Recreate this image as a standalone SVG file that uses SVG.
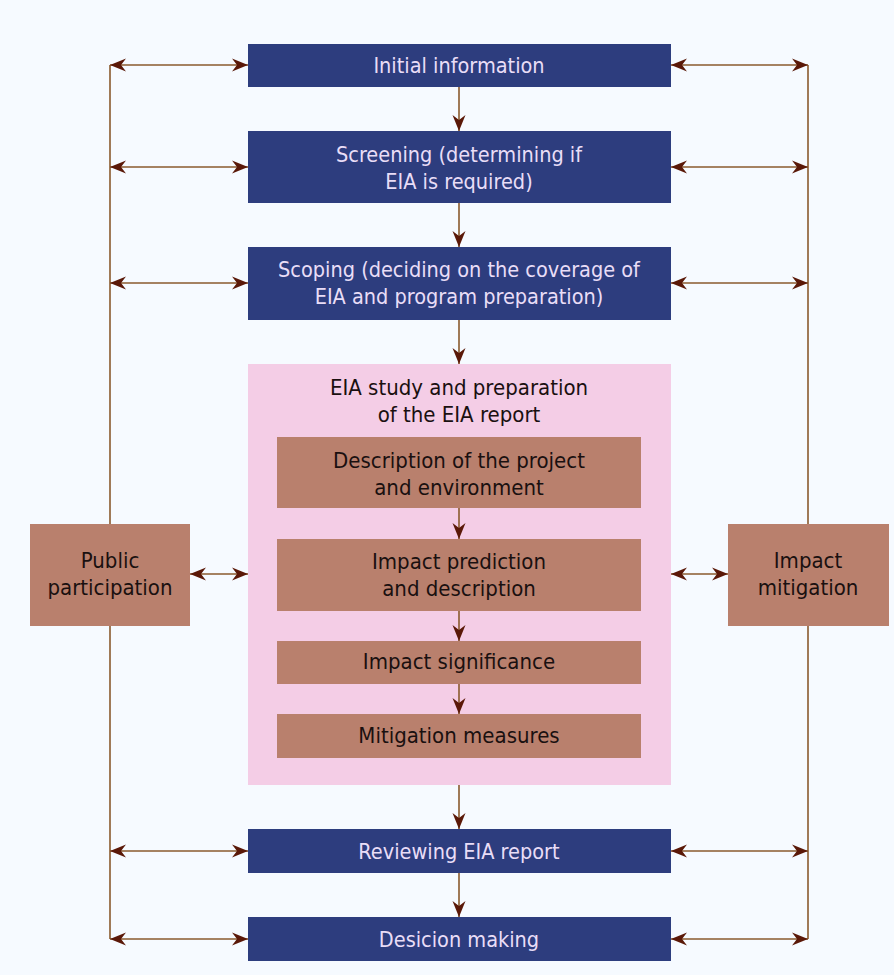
<svg xmlns="http://www.w3.org/2000/svg" width="894" height="975" viewBox="0 0 894 975">
  <defs>
    <marker id="tip" markerUnits="userSpaceOnUse" markerWidth="20" markerHeight="16" viewBox="-17 -8 18 16" refX="0" refY="0" orient="auto-start-reverse">
      <path d="M0,0 L-16,-6.5 L-11,0 L-16,6.5 Z" fill="#5a1808"/>
    </marker>
    <style>
      .stage { fill: #2d3d7e; }
      .task { fill: #b9806d; }
      .panel { fill: #f4cde6; }
      .stage-label { font-family: "DejaVu Sans Condensed", "DejaVu Sans", sans-serif; font-size: 21.5px; fill: #e9ddf7; text-anchor: middle; }
      .task-label { font-family: "DejaVu Sans Condensed", "DejaVu Sans", sans-serif; font-size: 22px; fill: #1a1010; text-anchor: middle; }
      .link { stroke: #8a5a2e; stroke-width: 1.6; fill: none; }
      .arrow { stroke: #8a5a2e; stroke-width: 1.6; fill: none; marker-end: url(#tip); }
      .both { stroke: #8a5a2e; stroke-width: 1.6; fill: none; marker-start: url(#tip); marker-end: url(#tip); }
    </style>
  </defs>

  <rect width="894" height="975" fill="#f6faff"/>

  <!-- EIA study panel (background container) -->
  <g id="eia-study">
    <rect class="panel" x="248" y="364" width="423" height="421"/>
    <text class="task-label" x="459" y="395">EIA study and preparation</text>
    <text class="task-label" x="459" y="422">of the EIA report</text>
  </g>

  <!-- connectors -->
  <g id="connectors">
    <!-- side rails -->
    <polyline class="link" points="110,65 110,524"/>
    <polyline class="link" points="110,626 110,939"/>
    <polyline class="link" points="808,65 808,524"/>
    <polyline class="link" points="808,626 808,939"/>

    <!-- left rail to stages -->
    <line class="both" x1="110" y1="65" x2="248" y2="65"/>
    <line class="both" x1="110" y1="167" x2="248" y2="167"/>
    <line class="both" x1="110" y1="283" x2="248" y2="283"/>
    <line class="both" x1="110" y1="851" x2="248" y2="851"/>
    <line class="both" x1="110" y1="939" x2="248" y2="939"/>

    <!-- stages to right rail -->
    <line class="both" x1="671" y1="65" x2="808" y2="65"/>
    <line class="both" x1="671" y1="167" x2="808" y2="167"/>
    <line class="both" x1="671" y1="283" x2="808" y2="283"/>
    <line class="both" x1="671" y1="851" x2="808" y2="851"/>
    <line class="both" x1="671" y1="939" x2="808" y2="939"/>

    <!-- side boxes to the study panel -->
    <line class="both" x1="190" y1="574" x2="248" y2="574"/>
    <line class="both" x1="671" y1="574" x2="728" y2="574"/>

    <!-- main sequence -->
    <line class="arrow" x1="459" y1="87" x2="459" y2="131"/>
    <line class="arrow" x1="459" y1="203" x2="459" y2="247"/>
    <line class="arrow" x1="459" y1="320" x2="459" y2="364"/>
    <line class="arrow" x1="459" y1="785" x2="459" y2="829"/>
    <line class="arrow" x1="459" y1="873" x2="459" y2="917"/>

    <!-- study steps -->
    <line class="arrow" x1="459" y1="508" x2="459" y2="539"/>
    <line class="arrow" x1="459" y1="611" x2="459" y2="641"/>
    <line class="arrow" x1="459" y1="684" x2="459" y2="714"/>
  </g>

  <g id="initial-information">
    <rect class="stage" x="248" y="44" width="423" height="43"/>
    <text class="stage-label" x="459" y="73">Initial information</text>
  </g>

  <g id="screening">
    <rect class="stage" x="248" y="131" width="423" height="72"/>
    <text class="stage-label" x="459" y="162">Screening (determining if</text>
    <text class="stage-label" x="459" y="189">EIA is required)</text>
  </g>

  <g id="scoping">
    <rect class="stage" x="248" y="247" width="423" height="73"/>
    <text class="stage-label" x="459" y="277">Scoping (deciding on the coverage of</text>
    <text class="stage-label" x="459" y="304">EIA and program preparation)</text>
  </g>

  <g id="project-description">
    <rect class="task" x="277" y="437" width="364" height="71"/>
    <text class="task-label" x="459" y="468">Description of the project</text>
    <text class="task-label" x="459" y="495">and environment</text>
  </g>

  <g id="impact-prediction">
    <rect class="task" x="277" y="539" width="364" height="72"/>
    <text class="task-label" x="459" y="569">Impact prediction</text>
    <text class="task-label" x="459" y="596">and description</text>
  </g>

  <g id="impact-significance">
    <rect class="task" x="277" y="641" width="364" height="43"/>
    <text class="task-label" x="459" y="669">Impact significance</text>
  </g>

  <g id="mitigation-measures">
    <rect class="task" x="277" y="714" width="364" height="44"/>
    <text class="task-label" x="459" y="743">Mitigation measures</text>
  </g>

  <g id="reviewing">
    <rect class="stage" x="248" y="829" width="423" height="44"/>
    <text class="stage-label" x="459" y="859">Reviewing EIA report</text>
  </g>

  <g id="decision-making">
    <rect class="stage" x="248" y="917" width="423" height="44"/>
    <text class="stage-label" x="459" y="947">Desicion making</text>
  </g>

  <g id="public-participation">
    <rect class="task" x="30" y="524" width="160" height="102"/>
    <text class="task-label" x="110" y="568">Public</text>
    <text class="task-label" x="110" y="595">participation</text>
  </g>

  <g id="impact-mitigation">
    <rect class="task" x="728" y="524" width="161" height="102"/>
    <text class="task-label" x="808" y="568">Impact</text>
    <text class="task-label" x="808" y="595">mitigation</text>
  </g>
</svg>
